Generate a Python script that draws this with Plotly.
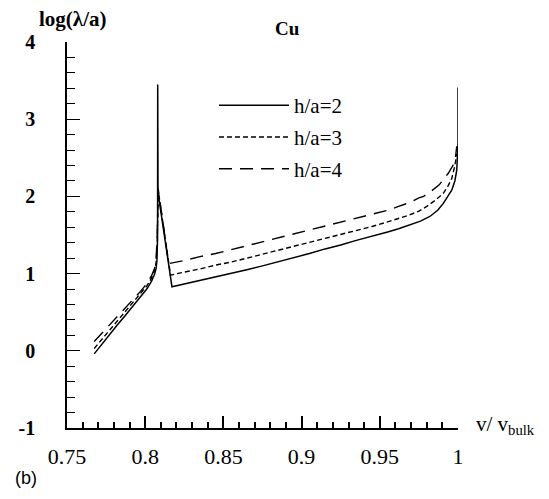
import plotly.graph_objects as go

# ---- data ----
v_h2 = [0.7674, 0.772, 0.777, 0.782, 0.787, 0.792, 0.797, 0.801, 0.804, 0.806, 0.807,
        0.8075, 0.8079, 0.8080, 0.8082, 0.8171, 0.825, 0.835, 0.845, 0.855, 0.865,
        0.875, 0.885, 0.895, 0.905, 0.915, 0.925, 0.935, 0.945, 0.955, 0.962, 0.969,
        0.976, 0.982, 0.987, 0.9906, 0.9935, 0.996, 0.998, 0.9992, 1.0, 1.0]
y_h2 = [-0.04, 0.08, 0.20, 0.33, 0.45, 0.57, 0.69, 0.80, 0.90, 0.99, 1.07,
        1.17, 1.45, 3.45, 2.05, 0.83, 0.865, 0.91, 0.955, 1.0, 1.05,
        1.10, 1.15, 1.21, 1.26, 1.32, 1.37, 1.43, 1.48, 1.54, 1.58, 1.63,
        1.68, 1.74, 1.82, 1.91, 2.0, 2.08, 2.2, 2.34, 2.69, 3.41]

v_h3 = [0.7674, 0.772, 0.777, 0.782, 0.787, 0.792, 0.797, 0.801, 0.804, 0.806, 0.807,
        0.8077, 0.8083, 0.8162, 0.825, 0.835, 0.845, 0.855, 0.865, 0.875, 0.885,
        0.895, 0.905, 0.915, 0.925, 0.935, 0.945, 0.955, 0.962, 0.969, 0.975, 0.98,
        0.9855, 0.9906, 0.9935, 0.996, 0.998, 0.9992]
y_h3 = [0.03, 0.14, 0.26, 0.38, 0.50, 0.62, 0.73, 0.84, 0.94, 1.04, 1.15,
        1.40, 2.08, 0.98, 1.02, 1.06, 1.11, 1.15, 1.20, 1.25, 1.30,
        1.35, 1.40, 1.45, 1.50, 1.55, 1.61, 1.67, 1.71, 1.76, 1.81, 1.87,
        1.95, 2.04, 2.13, 2.23, 2.40, 2.55]

v_h4 = [0.7674, 0.772, 0.777, 0.782, 0.787, 0.792, 0.797, 0.801, 0.804, 0.806, 0.807,
        0.8077, 0.8083, 0.8150, 0.825, 0.835, 0.845, 0.855, 0.865, 0.875, 0.885,
        0.895, 0.905, 0.915, 0.925, 0.935, 0.945, 0.955, 0.962, 0.969, 0.975, 0.978,
        0.983, 0.988, 0.9938, 0.997, 0.9984, 0.9992]
y_h4 = [0.12, 0.22, 0.33, 0.44, 0.55, 0.66, 0.77, 0.87, 0.97, 1.07, 1.20,
        1.50, 2.10, 1.13, 1.17, 1.22, 1.26, 1.31, 1.36, 1.41, 1.46,
        1.51, 1.56, 1.61, 1.66, 1.71, 1.76, 1.82, 1.87, 1.92, 1.98, 2.00,
        2.07, 2.15, 2.30, 2.41, 2.51, 2.65]

series_names = ["h/a=2", "h/a=3", "h/a=4"]
x_range = [0.75, 1.0]
x_tickvals = [0.75, 0.8, 0.85, 0.9, 0.95, 1.0]
x_ticktext = ["0.75", "0.8", "0.85", "0.9", "0.95", "1"]
x_minor_vals = [round(0.75 + 0.01 * k, 2) for k in range(26)]
y_tickvals = [-1, 0, 1, 2, 3, 4]
y_ticktext = ["-1", "0", "1", "2", "3", "4"]
y_minor_vals = [round(-1 + 0.2 * k, 1) for k in range(26)]

SERIF = "Liberation Serif"
SANS = "Liberation Sans"

fig = go.Figure()
styles = [("solid", 1.5), ("5px,3px", 1.4), ("13px,8px", 1.4)]
for i, (vx, vy) in enumerate([(v_h2, y_h2), (v_h3, y_h3), (v_h4, y_h4)]):
    fig.add_trace(go.Scatter(
        x=vx, y=vy, mode="lines", name=series_names[i],
        legendgroup=series_names[i],
        line=dict(color="black", width=styles[i][1], dash=styles[i][0]),
    ))

W, H = 549, 499
L, R, T, B = 67, 91, 42, 71
pw, ph = W - L - R, H - T - B

def px(xp):
    return (xp - L) / pw

def py(yp):
    return (H - B - yp) / ph

fig.update_layout(
    width=W, height=H,
    margin=dict(l=L, r=R, t=T, b=B),
    paper_bgcolor="white", plot_bgcolor="white",
    font=dict(family=SERIF, color="black"),
    showlegend=True,
    legend=dict(
        x=px(214), y=py(85), xanchor="left", yanchor="top",
        font=dict(family=SERIF, size=21, color="black"),
        bgcolor="rgba(0,0,0,0)", borderwidth=0,
        traceorder="grouped", tracegroupgap=1.5, itemwidth=70,
    ),
    xaxis=dict(
        range=x_range, tickmode="array", tickvals=x_tickvals, ticktext=x_ticktext,
        ticks="inside", ticklen=12, tickwidth=1.6, tickcolor="black",
        minor=dict(tickmode="array", tickvals=x_minor_vals, ticks="inside",
                   ticklen=6, tickwidth=1.6, tickcolor="black", showgrid=False),
        showline=True, linecolor="black", linewidth=1.5,
        showgrid=False, zeroline=False, layer="above traces",
        tickfont=dict(family=SERIF, size=22, color="black"),
        ticklabelstandoff=8,
    ),
    yaxis=dict(
        range=[-1, 4], tickmode="array", tickvals=y_tickvals, ticktext=y_ticktext,
        ticks="inside", ticklen=13, tickwidth=1.2, tickcolor="black",
        minor=dict(tickmode="array", tickvals=y_minor_vals, ticks="inside",
                   ticklen=8, tickwidth=1.2, tickcolor="black", showgrid=False),
        showline=True, linecolor="black", linewidth=1.5,
        showgrid=False, zeroline=False,
        tickfont=dict(family=SERIF, size=20, color="black", weight="bold"),
        ticklabelstandoff=26,
    ),
)

fig.add_annotation(text="log(λ/a)", xref="paper", yref="paper",
                   x=px(37), y=py(19), xanchor="left", yanchor="middle",
                   showarrow=False,
                   font=dict(family=SERIF, size=21, color="black", weight="bold"))
fig.add_annotation(text="Cu", xref="paper", yref="paper",
                   x=px(287), y=py(28), xanchor="center", yanchor="middle",
                   showarrow=False,
                   font=dict(family=SERIF, size=19, color="black", weight="bold"))
fig.add_annotation(text="v/ v<sub>bulk</sub>", xref="paper", yref="paper",
                   x=px(474), y=py(425), xanchor="left", yanchor="middle",
                   showarrow=False,
                   font=dict(family=SERIF, size=21, color="black"))
fig.add_annotation(text="(b)", xref="paper", yref="paper",
                   x=px(13), y=py(478), xanchor="left", yanchor="middle",
                   showarrow=False,
                   font=dict(family=SANS, size=18, color="black"))

fig.write_html("out.html")
